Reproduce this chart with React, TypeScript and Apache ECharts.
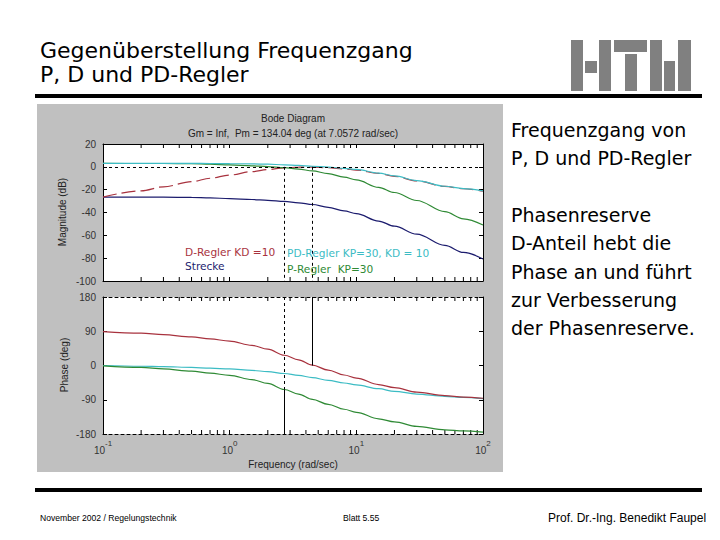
import React, { useEffect, useRef } from "react";
import * as echarts from "echarts";

// Frequencies (rad/sec)
const freqs = [0.1, 0.2, 0.3, 0.5, 0.7, 1, 1.5, 2, 2.7, 3.5, 4.5, 6, 8, 10, 15, 20, 30, 50, 70, 100];

// Magnitude (dB)
const magStrecke = [-26.5, -26.6, -26.6, -26.8, -27.2, -27.8, -28.6, -29.3, -30.2, -31.5, -33, -35.5, -38.5, -41, -47.5, -52, -59, -68.8, -75, -80.7];
const magD = [-26.5, -21, -17.5, -13, -10, -7.2, -4.2, -2.4, -0.9, -0.3, -0.2, -0.8, -1.8, -2.8, -5.8, -8.3, -12.3, -17.2, -19.2, -21.2];
const magP = [3, 2.9, 2.9, 2.7, 2.3, 1.7, 0.9, 0.2, -0.7, -2, -3.5, -6, -9, -11.5, -18, -22.5, -29.5, -39.3, -45.5, -51];
const magPD = [3, 3, 3, 3, 2.9, 2.8, 2.6, 2.3, 1.8, 1.2, 0.5, -0.3, -1.3, -2.3, -5.5, -8, -12, -17, -19, -21];

// Phase (deg)
const phaseD = [89, 85, 81, 75, 70, 64, 53, 43, 27, 15, 1, -12, -25, -33, -50, -58, -70, -79, -83, -86];
const phaseP = [-1, -5, -9, -15, -20, -26, -37, -47, -63, -75, -89, -102, -115, -123, -140, -148, -160, -169, -172, -175];
const phasePD = [0, -2, -3, -5, -7, -9, -13, -16, -21, -26, -32, -39, -46, -51, -61, -68, -75, -81, -84, -87];

// Minor tick positions on the log axis
const minorTickFreqs = [0.2, 0.3, 0.4, 0.5, 0.6, 0.7, 0.8, 0.9, 2, 3, 4, 5, 6, 7, 8, 9, 20, 30, 40, 50, 60, 70, 80, 90];

// Margin indicator lines
const markerFreqA = 2.7;
const markerFreqB = 4.49;
const phaseAtMarkerA = -63;
const phaseAtMarkerB = 0;

const rightTextLines = [
  "Frequenzgang von",
  "P, D und PD-Regler",
  "",
  "Phasenreserve",
  "D-Anteil hebt die",
  "Phase an und führt",
  "zur Verbesserung",
  "der Phasenreserve.",
];

const C_RED = "#a8323e";
const C_NAVY = "#1c1c6e";
const C_GREEN = "#2f8a35";
const C_CYAN = "#3cbcc4";

const SLIDE_FONT = '"DejaVu Sans"';
const AX_FONT = '"Liberation Sans"';

const GRID_L = 103;
const GRID_W = 380;

function pairs(ys: number[]) {
  return freqs.map((f, i) => [f, ys[i]]);
}

function minorTickSeries(xi: number, yi: number) {
  return {
    type: "custom",
    xAxisIndex: xi,
    yAxisIndex: yi,
    silent: true,
    clip: false,
    data: minorTickFreqs.map((f) => [f, 0]),
    encode: { x: 0, y: 1 },
    renderItem: (params: any, api: any) => {
      const x = api.coord([api.value(0), 0])[0];
      const cs = params.coordSys;
      const st = { stroke: "#000", lineWidth: 1 };
      return {
        type: "group",
        children: [
          { type: "line", shape: { x1: x, y1: cs.y + cs.height, x2: x, y2: cs.y + cs.height - 4 }, style: st },
          { type: "line", shape: { x1: x, y1: cs.y, x2: x, y2: cs.y + 4 }, style: st },
        ],
      };
    },
  };
}

function logAxis(gridIndex: number, position: string, showLabels: boolean, dashed: boolean) {
  return {
    type: "log",
    logBase: 10,
    min: 0.1,
    max: 100,
    gridIndex,
    position,
    axisLine: { show: true, onZero: false, lineStyle: { color: "#000", width: 1, type: dashed ? [3, 3] : "solid" } },
    axisTick: { show: true, inside: true, length: 4, lineStyle: { color: "#000" } },
    splitLine: { show: false },
    axisLabel: {
      show: showLabels,
      margin: 5,
      formatter: (v: number) => "{b|10}{s|" + Math.round(Math.log10(v)) + "}",
      rich: {
        b: { fontSize: 10, fontFamily: AX_FONT, color: "#333", lineHeight: 16, verticalAlign: "bottom" },
        s: { fontSize: 8, fontFamily: AX_FONT, color: "#333", lineHeight: 16, verticalAlign: "top" },
      },
    },
  };
}

function valAxis(gridIndex: number, position: string, min: number, max: number, interval: number, showLabels: boolean) {
  return {
    type: "value",
    gridIndex,
    position,
    min,
    max,
    interval,
    axisLine: { show: true, onZero: false, lineStyle: { color: "#000", width: 1 } },
    axisTick: { show: true, inside: true, length: 4, lineStyle: { color: "#000" } },
    splitLine: { show: false },
    axisLabel: { show: showLabels, fontSize: 10, fontFamily: AX_FONT, color: "#333", margin: 7 },
  };
}

function lineSeries(name: string, xi: number, yi: number, ys: number[], color: string, dash: any, extra: any = {}) {
  return {
    name,
    type: "line",
    xAxisIndex: xi,
    yAxisIndex: yi,
    data: pairs(ys),
    showSymbol: false,
    symbol: "none",
    smooth: 0.35,
    smoothMonotone: "x",
    lineStyle: { color, width: 1.2, type: dash },
    ...extra,
  };
}

function text(x: number, y: number, t: string, font: string, fill: string, align = "left", extra: any = {}) {
  return {
    type: "text",
    x,
    y,
    z: 50,
    style: { text: t, font, fill, textAlign: align, align, textVerticalAlign: "middle", verticalAlign: "middle" },
    ...extra,
  };
}

function rect(x: number, y: number, w: number, h: number, fill: string, z = 40) {
  return { type: "rect", z, shape: { x, y, width: w, height: h }, style: { fill } };
}

export default function App() {
  const ref = useRef<HTMLDivElement>(null);

  useEffect(() => {
    if (!ref.current) return;
    const chart = echarts.init(ref.current, undefined, { renderer: "svg" });

    const graphicEls: any[] = [
      rect(37, 104, 466, 368, "#c0c0c0", -10),
      // header
      text(40, 50, "Gegenüberstellung Frequenzgang", "22px " + SLIDE_FONT, "#000"),
      text(40, 74, "P, D und PD-Regler", "22px " + SLIDE_FONT, "#000"),
      rect(35, 94, 667, 4, "#000"),
      // logo
      rect(571, 40, 12, 51, "#808080"),
      rect(585, 61, 12, 12, "#808080"),
      rect(599, 40, 12, 51, "#808080"),
      rect(614, 40, 33, 12, "#808080"),
      rect(625, 54, 12, 37, "#808080"),
      rect(650, 40, 12, 51, "#808080"),
      rect(664, 61, 11, 30, "#808080"),
      rect(678, 40, 13, 51, "#808080"),
      // footer
      rect(35, 488, 667, 4, "#000"),
      text(40, 518, "November 2002 / Regelungstechnik", "8.6px " + AX_FONT, "#000"),
      text(343, 518, "Blatt 5.55", "8.6px " + AX_FONT, "#000"),
      text(548, 518, "Prof. Dr.-Ing. Benedikt Faupel", "12px " + AX_FONT, "#000"),
      // bode titles
      text(293, 118, "Bode Diagram", "10px " + AX_FONT, "#222", "center"),
      text(293, 133, "Gm = Inf,  Pm = 134.04 deg (at 7.0572 rad/sec)", "10px " + AX_FONT, "#222", "center"),
      text(293, 464, "Frequency (rad/sec)", "10px " + AX_FONT, "#222", "center"),
      text(62, 212, "Magnitude (dB)", "10px " + AX_FONT, "#222", "center", { rotation: Math.PI / 2 }),
      text(64, 365, "Phase (deg)", "10px " + AX_FONT, "#222", "center", { rotation: Math.PI / 2 }),
      // annotations
      text(185, 252, "D-Regler KD =10", "10.6px " + SLIDE_FONT, C_RED),
      text(185, 266, "Strecke", "10.6px " + SLIDE_FONT, C_NAVY),
      text(287, 253, "PD-Regler KP=30, KD = 10", "10.6px " + SLIDE_FONT, C_CYAN),
      text(287, 269, "P-Regler  KP=30", "10.6px " + SLIDE_FONT, C_GREEN),
    ];
    rightTextLines.forEach((ln, i) => {
      if (ln) graphicEls.push(text(511, 130 + i * 28.3, ln, "19px " + SLIDE_FONT, "#000"));
    });

    const option: any = {
      animation: false,
      backgroundColor: "#fff",
      grid: [
        { left: GRID_L, top: 144, width: GRID_W, height: 137, show: true, backgroundColor: "#fff", borderWidth: 0 },
        { left: GRID_L, top: 297, width: GRID_W, height: 137, show: true, backgroundColor: "#fff", borderWidth: 0 },
      ],
      xAxis: [
        logAxis(0, "bottom", false, false),
        logAxis(0, "top", false, false),
        logAxis(1, "bottom", true, true),
        logAxis(1, "top", false, true),
      ],
      yAxis: [
        valAxis(0, "left", -100, 20, 20, true),
        valAxis(0, "right", -100, 20, 20, false),
        valAxis(1, "left", -180, 180, 90, true),
        valAxis(1, "right", -180, 180, 90, false),
      ],
      graphic: { elements: graphicEls },
      series: [
        lineSeries("Strecke", 0, 0, magStrecke, C_NAVY, "solid"),
        lineSeries("D-Regler", 0, 0, magD, C_RED, [14, 5]),
        lineSeries("P-Regler", 0, 0, magP, C_GREEN, "solid"),
        lineSeries("PD-Regler", 0, 0, magPD, C_CYAN, "solid", {
          markLine: {
            silent: true,
            symbol: "none",
            label: { show: false },
            lineStyle: { color: "#000", width: 1, type: [3, 3] },
            data: [
              { yAxis: 0 },
              [{ coord: [markerFreqA, 0] }, { coord: [markerFreqA, -100] }],
              [{ coord: [markerFreqB, 0] }, { coord: [markerFreqB, -100] }],
            ],
          },
        }),
        lineSeries("PD-Regler Phase", 2, 2, phasePD, C_CYAN, "solid"),
        lineSeries("P-Regler Phase", 2, 2, phaseP, C_GREEN, "solid"),
        lineSeries("D-Regler Phase", 2, 2, phaseD, C_RED, "solid", {
          markLine: {
            silent: true,
            symbol: "none",
            label: { show: false },
            lineStyle: { color: "#000", width: 1, type: "solid" },
            data: [
              [{ coord: [markerFreqA, 180], lineStyle: { type: [3, 3] } }, { coord: [markerFreqA, phaseAtMarkerA] }],
              [{ coord: [markerFreqA, phaseAtMarkerA] }, { coord: [markerFreqA, -180] }],
              [{ coord: [markerFreqB, 180] }, { coord: [markerFreqB, phaseAtMarkerB] }],
            ],
          },
        }),
        minorTickSeries(0, 0),
        minorTickSeries(2, 2),
      ],
    };

    chart.setOption(option);
    return () => chart.dispose();
  }, []);

  return <div ref={ref} style={{ position: "absolute", left: 0, top: 0, width: 720, height: 540 }} />;
}
